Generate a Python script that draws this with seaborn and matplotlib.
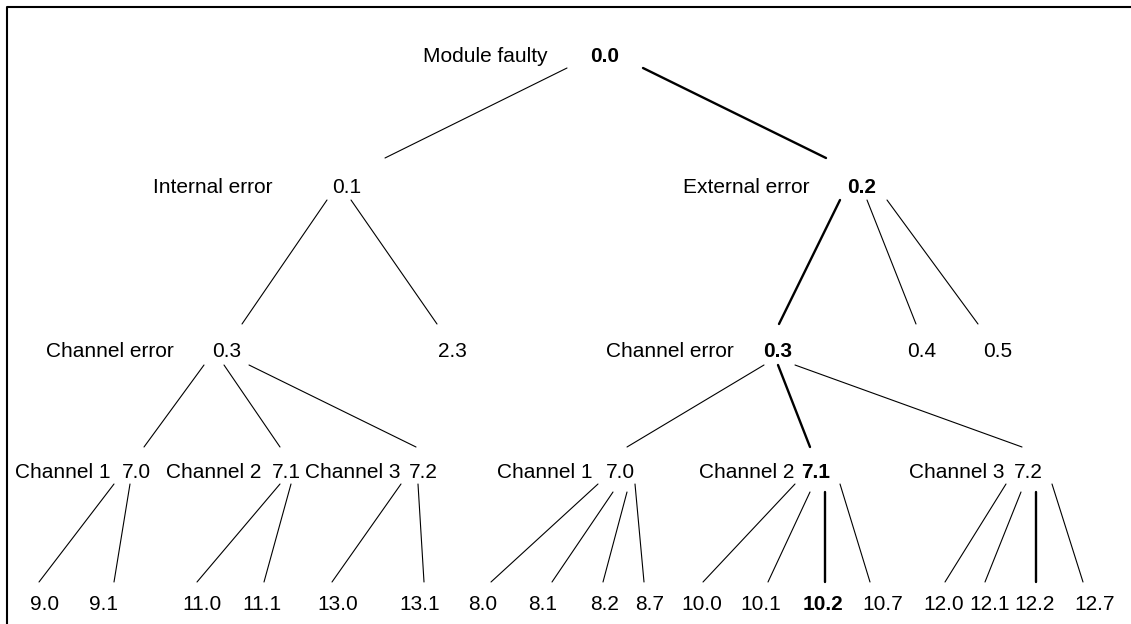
import numpy as np
import pandas as pd
import seaborn as sns
import matplotlib.pyplot as plt

# --- tree content -------------------------------------------------------
codes = ["0.0", "0.1", "0.2", "0.3", "2.3", "0.3", "0.4", "0.5",
         "7.0", "7.1", "7.2", "7.0", "7.1", "7.2",
         "9.0", "9.1", "11.0", "11.1", "13.0", "13.1",
         "8.0", "8.1", "8.2", "8.7", "10.0", "10.1", "10.2", "10.7",
         "12.0", "12.1", "12.2", "12.7"]
names = ["Module faulty", "Internal error", "External error", "Channel error", "",
         "Channel error", "", "",
         "Channel 1", "Channel 2", "Channel 3", "Channel 1", "Channel 2", "Channel 3"] + [""] * 18
parents = [-1, 0, 0, 1, 1, 2, 2, 2,
           3, 3, 3, 5, 5, 5,
           8, 8, 9, 9, 10, 10,
           11, 11, 11, 11, 12, 12, 12, 12,
           13, 13, 13, 13]
levels = [0, 1, 1, 2, 2, 2, 2, 2] + [3] * 6 + [4] * 18
bold_codes = [0, 2, 5, 12, 26]          # nodes on the highlighted path
bold_edges = [2, 5, 12, 26, 30]         # child index of highlighted edges

# --- layout (pixels) ----------------------------------------------------
level_base = [62, 193, 357, 478, 610]
code_x = [605, 347, 862, 227, 452, 778, 922, 998,
          136, 286, 423, 620, 816, 1028,
          45, 104, 202, 262, 338, 420,
          483, 543, 605, 650, 702, 761, 823, 883,
          944, 990, 1035, 1095]
name_x = [485, 213, 746, 110, None, 670, None, None,
          63, 214, 353, 545, 747, 957] + [None] * 18
edge_x0 = [None, 567, 643, 327, 351, 840, 867, 887,
           204, 224, 249, 764, 778, 795,
           114, 130, 280, 291, 401, 418,
           598, 613, 627, 635, 795, 810, 825, 840,
           1006, 1021, 1036, 1052]
edge_x1 = [None, 385, 826, 242, 437, 779, 916, 978,
           144, 280, 416, 627, 810, 1022,
           39, 114, 197, 264, 332, 424,
           491, 552, 603, 644, 703, 768, 825, 870,
           945, 985, 1036, 1083]
edge_y0 = [None, 68, 68, 200, 200, 200, 200, 200,
           365, 365, 365, 365, 365, 365,
           484, 484, 484, 484, 484, 484,
           484, 492, 492, 484, 484, 492, 492, 484,
           484, 492, 492, 484]
level_top = [None, 158, 324, 447, 582]

rows = []
for i in range(1, len(codes)):
    b = i in bold_edges
    rows.append({"edge": i, "x": edge_x0[i], "y": edge_y0[i], "bold": b})
    rows.append({"edge": i, "x": edge_x1[i], "y": level_top[levels[i]], "bold": b})
edges = pd.DataFrame(rows)

sns.set_theme(style="white")
plt.rcParams['font.family'] = ['Liberation Sans', 'DejaVu Sans']

fig = plt.figure(figsize=(11.31, 6.24), dpi=100)
ax = fig.add_axes([0, 0, 1, 1])

sns.lineplot(data=edges, x="x", y="y", units="edge", estimator=None, sort=False,
             size="bold", sizes={False: 0.8, True: 1.7}, color="black",
             legend=False, ax=ax)

for i, code in enumerate(codes):
    y = level_base[levels[i]]
    ax.text(code_x[i], y, code, ha="center", va="baseline", fontsize=15,
            fontweight="bold" if i in bold_codes else "normal", color="black")
    if names[i]:
        ax.text(name_x[i], y, names[i], ha="center", va="baseline",
                fontsize=15, color="black")

# frame (left and top edges)
ax.plot([7, 7, 1131], [624, 7, 7], color="black", lw=1.5)

ax.set_xlim(0, 1131)
ax.set_ylim(624, 0)
ax.set_axis_off()

fig.savefig("out.png", dpi=100)
